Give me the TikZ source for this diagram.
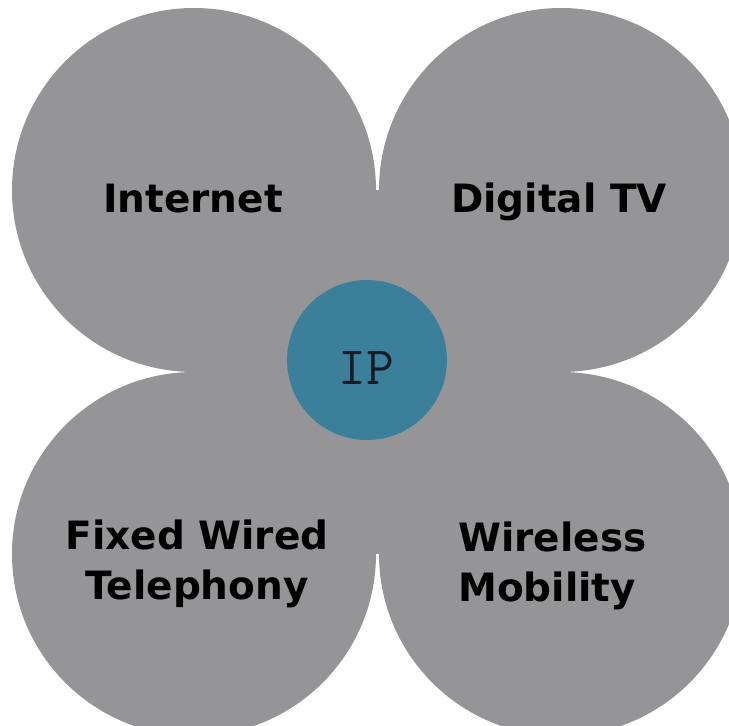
\documentclass[tikz,border=0pt]{standalone}
\usepackage{fontspec}
\setmainfont{DejaVu Sans}
\definecolor{petalgrey}{RGB}{149,149,151}
\definecolor{hubblue}{RGB}{59,127,155}
\definecolor{hubtext}{RGB}{22,26,34}
\begin{document}
\begin{tikzpicture}[x=1pt,y=-1pt,
  petal/.style={circle, fill=petalgrey, minimum size=364pt, inner sep=0pt},
  service/.style={font=\fontsize{39}{50}\selectfont\bfseries, inner sep=0pt}]
\useasboundingbox (0,0) rectangle (729,726);

% the four services
\node[petal] (internet) at (194,190) {};
\node[petal] (tv) at (561,190) {};
\node[petal] (phone) at (194,554) {};
\node[petal] (mobile) at (561,554) {};
\fill[petalgrey] (internet.center) rectangle (mobile.center);

% IP in the middle
\node[circle, fill=hubblue, minimum size=160pt, inner sep=0pt] (ip) at (367,360) {};
\node[font=\fontsize{54}{54}\selectfont\ttfamily, text=hubtext, anchor=base] (iptext) at (366,384) {IP};

\node[service, anchor=base] (t1) at (193,212) {Internet};
\node[service, anchor=base] (t2) at (559,212) {Digital TV};
\node[service, align=center] (t3) at (197,564) {Fixed Wired\\Telephony};
\node[service, align=left, anchor=west] (t4) at (458,566) {Wireless\\Mobility};
\end{tikzpicture}
\end{document}
